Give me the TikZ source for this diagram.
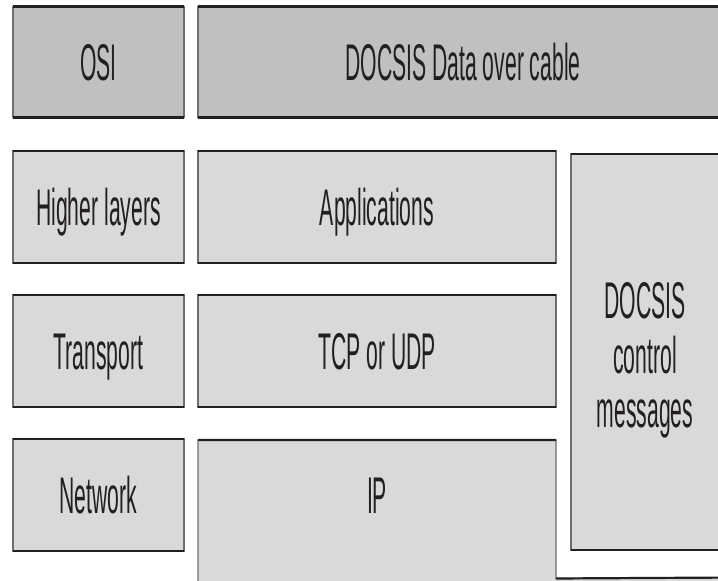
\documentclass[tikz,border=0pt]{standalone}
\usepackage{fontspec}
\setmainfont[FakeStretch=0.41]{Liberation Sans}
\usetikzlibrary{positioning}
\definecolor{topgray}{HTML}{C0C0C0}
\definecolor{rowgray}{HTML}{D9D9D9}
\definecolor{rimdark}{HTML}{231F20}
\definecolor{sidegray}{HTML}{6D6E71}
\tikzset{
    layerbox/.style={fill=rowgray, draw=sidegray, line width=0.6pt},
    rimline/.style={draw=rimdark, line width=1.1pt},
    layertext/.style={text=rimdark, font=\fontsize{25.8}{27.3}\selectfont,
        align=center, inner sep=0pt, anchor=base},
}

\begin{document}
\begin{tikzpicture}[x={(0.5pt,0)},y={(0,-0.5pt)}]
\useasboundingbox (0,0) rectangle (718,581);
\clip (0,0) rectangle (718,581);

% boxes, top and bottom rims are darker
\foreach \xa/\ya/\xb/\yb/\col in {13/6.5/184/117.5/topgray, 198/6.5/730/117.5/topgray,
    13/151/184/263/rowgray, 198/151/556/263/rowgray,
    13/295/184/407/rowgray, 198/295/556/407/rowgray,
    13/439/184/551/rowgray, 571/154/722/550/rowgray}
  {
       \draw[layerbox, fill=\col] (\xa,\ya) rectangle (\xb,\yb);
       \draw[rimline] (\xa,\ya) -- (\xb,\ya) (\xa,\yb) -- (\xb,\yb);}

% IP runs on under the control messages
\draw[layerbox] (198,600) -- (198,440) -- (556,440) -- (556,578.5) -- (740,577.5) -- (740,600) -- cycle;
\draw[rimline] (198,440) -- (556,440) (556,578.5) -- (740,577.5);

\node[layertext] (osi) at (98.5,80.5) {OSI};
\node[layertext] (docsis) at (463,80.5) {DOCSIS Data over cable};
\node[layertext] (higher) at (98.5,225.5) {Higher layers};
\node[layertext] (apps) at (377,225.5) {Applications};
\node[layertext] (transport) at (98.5,369.5) {Transport};
\node[layertext] (tcp) at (377,369.5) {TCP or UDP};
\node[layertext] (network) at (98.5,513.5) {Network};
\node[layertext] (ip) at (377,513.5) {IP};
\node[layertext] (control) at (645,428) {DOCSIS\\control\\messages};

\end{tikzpicture}
\end{document}
